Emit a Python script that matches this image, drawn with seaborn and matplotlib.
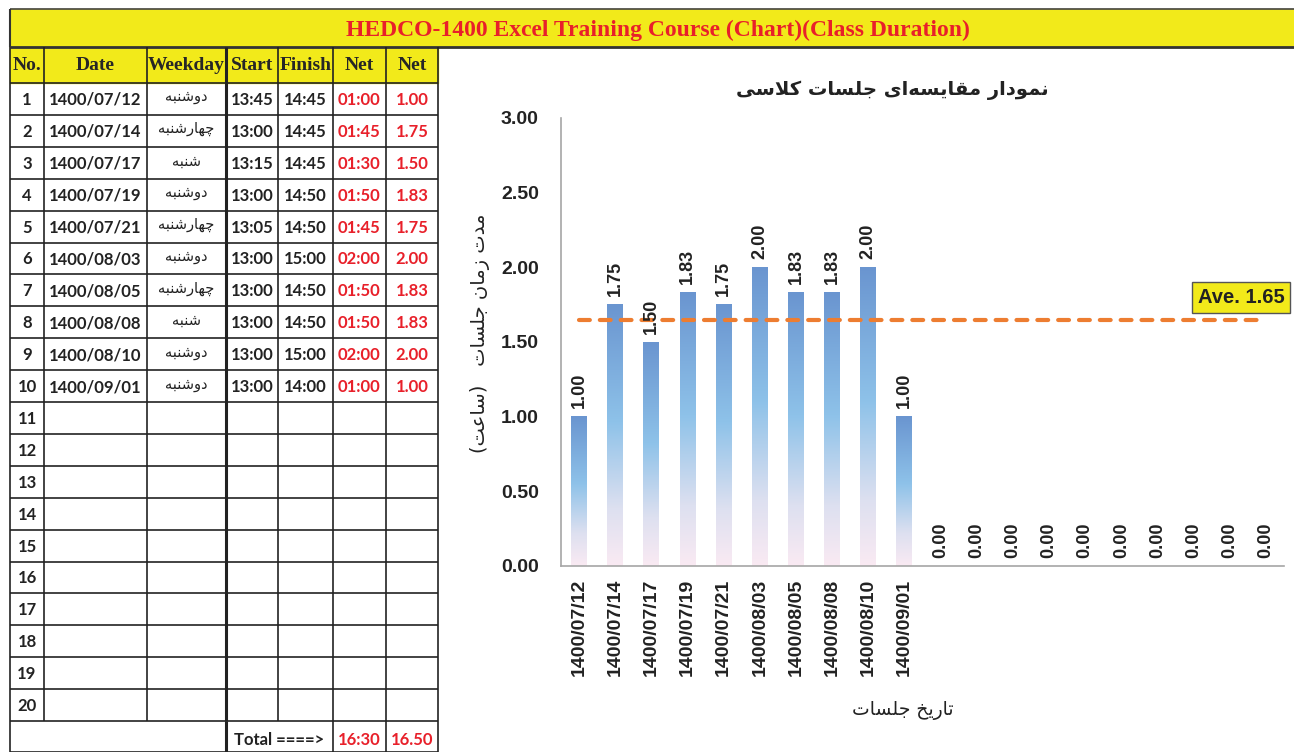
import numpy as np
import pandas as pd
import matplotlib
matplotlib.use("Agg")
import matplotlib.pyplot as plt
from matplotlib.colors import LinearSegmentedColormap
import seaborn as sns

# ---- data ----
row_numbers = list(range(1, 21))
dates = ['1400/07/12', '1400/07/14', '1400/07/17', '1400/07/19', '1400/07/21',
         '1400/08/03', '1400/08/05', '1400/08/08', '1400/08/10', '1400/09/01']
weekdays = ['دوشنبه', 'چهارشنبه', 'شنبه', 'دوشنبه', 'چهارشنبه',
            'دوشنبه', 'چهارشنبه', 'شنبه', 'دوشنبه', 'دوشنبه']
starts = ['13:45', '13:00', '13:15', '13:00', '13:05', '13:00', '13:00', '13:00', '13:00', '13:00']
finishes = ['14:45', '14:45', '14:45', '14:50', '14:50', '15:00', '14:50', '14:50', '15:00', '14:00']
net_hm = ['01:00', '01:45', '01:30', '01:50', '01:45', '02:00', '01:50', '01:50', '02:00', '01:00']
net_hours = [1.00, 1.75, 1.50, 1.83, 1.75, 2.00, 1.83, 1.83, 2.00, 1.00]
empty_slots = 10
total_hm = '16:30'
total_hours = '16.50'
average = 1.65

headers = ['No.', 'Date', 'Weekday', 'Start', 'Finish', 'Net', 'Net']
banner_title = 'HEDCO-1400 Excel Training Course (Chart)(Class Duration)'
chart_title = 'نمودار مقایسه\u200cای جلسات کلاسی'
y_title = 'مدت زمان جلسات   (ساعت)'
x_title = 'تاریخ جلسات'

RED = '#e8202a'
YELLOW = '#f2ea1a'


# matplotlib has no arabic shaping, so pick the presentation forms by hand
FORMS = {
    'ا': (0xFE8D, 0xFE8E, None, None), 'د': (0xFEA9, 0xFEAA, None, None),
    'ر': (0xFEAD, 0xFEAE, None, None), 'ز': (0xFEAF, 0xFEB0, None, None),
    'و': (0xFEED, 0xFEEE, None, None),
    'ب': (0xFE8F, 0xFE90, 0xFE91, 0xFE92), 'ت': (0xFE95, 0xFE96, 0xFE97, 0xFE98),
    'ج': (0xFE9D, 0xFE9E, 0xFE9F, 0xFEA0), 'خ': (0xFEA5, 0xFEA6, 0xFEA7, 0xFEA8),
    'س': (0xFEB1, 0xFEB2, 0xFEB3, 0xFEB4), 'ش': (0xFEB5, 0xFEB6, 0xFEB7, 0xFEB8),
    'ع': (0xFEC9, 0xFECA, 0xFECB, 0xFECC), 'ق': (0xFED5, 0xFED6, 0xFED7, 0xFED8),
    'ل': (0xFEDD, 0xFEDE, 0xFEDF, 0xFEE0), 'م': (0xFEE1, 0xFEE2, 0xFEE3, 0xFEE4),
    'ن': (0xFEE5, 0xFEE6, 0xFEE7, 0xFEE8), 'ه': (0xFEE9, 0xFEEA, 0xFEEB, 0xFEEC),
    'ی': (0xFBFC, 0xFBFD, 0xFBFE, 0xFBFF), 'ک': (0xFB8E, 0xFB8F, 0xFB90, 0xFB91),
    'چ': (0xFB7A, 0xFB7B, 0xFB7C, 0xFB7D),
}


def fa(text):
    out = []
    i = 0
    while i < len(text):
        c = text[i]
        if c not in FORMS:
            if c != '\u200c':
                out.append(c)
            i += 1
            continue
        prev = text[i - 1] if i > 0 else None
        join_prev = prev in FORMS and FORMS[prev][2] is not None
        if c == 'ل' and i + 1 < len(text) and text[i + 1] == 'ا':
            out.append(chr(0xFEFC if join_prev else 0xFEFB))
            i += 2
            continue
        nxt = text[i + 1] if i + 1 < len(text) else None
        iso, fin, ini, med = FORMS[c]
        join_next = ini is not None and nxt in FORMS
        if join_prev and join_next:
            g = med
        elif join_prev:
            g = fin
        elif join_next:
            g = ini
        else:
            g = iso
        out.append(chr(g))
        i += 1
    s = ''.join(reversed(out))
    return s.translate(str.maketrans('()', ')('))


sns.set_theme(style='white')
plt.rcParams['font.family'] = ['Liberation Sans', 'DejaVu Sans']
FA_FONT = ['DejaVu Sans']

fig = plt.figure(figsize=(12.94, 7.52), dpi=100)

# ---- spreadsheet part, drawn in pixel coordinates ----
sheet = fig.add_axes([0, 0, 1, 1])
sheet.set_xlim(0, 1294)
sheet.set_ylim(752, 0)
sheet.axis('off')

col_edges = [10, 44, 147, 226, 278, 333, 386, 438]
row_h = 31.9
header_top, header_bot = 47, 83
table_bot = header_bot + 20 * row_h

sheet.fill_between([10, 1294], 9, 47, color=YELLOW, zorder=0)
sheet.hlines(9, 10, 1294, color='#444', lw=1.2)
sheet.hlines(47, 10, 1294, color='#333', lw=2)
sheet.vlines(10, 9, 47, color='#333', lw=1.5)
sheet.text(658, 30, banner_title, ha='center', va='center', color=RED,
           fontsize=17, fontweight='bold', family='Liberation Serif')

sheet.fill_between([10, 438], header_top, header_bot, color=YELLOW, zorder=0)

# grid lines
for k in range(21):
    y = header_bot + k * row_h
    sheet.hlines(y, 10, 438, color='#222', lw=1.2)
sheet.hlines(752, 10, 438, color='#222', lw=1.2)
for x in col_edges:
    lw = 2.2 if x == 226 else 1.2
    sheet.vlines(x, header_top, table_bot, color='#222', lw=lw)
for x in [10, 226, 333, 386, 438]:
    sheet.vlines(x, table_bot, 752, color='#222', lw=2.2 if x == 226 else 1.2)

centers = [(a + b) / 2 for a, b in zip(col_edges[:-1], col_edges[1:])]
for cx, h in zip(centers, headers):
    sheet.text(cx, (header_top + header_bot) / 2 + 1, h, ha='center', va='center',
               fontsize=14, fontweight='bold', family='Liberation Serif')

cell_font = dict(fontsize=12, fontweight='bold', family='Lato', va='center', ha='center')
for k, n in enumerate(row_numbers):
    cy = header_bot + (k + 0.5) * row_h + 1
    sheet.text(centers[0], cy, str(n), color='#222', **cell_font)
    if k < len(dates):
        sheet.text(centers[1], cy, dates[k], color='#222', **cell_font)
        sheet.text(centers[2], cy - 3, fa(weekdays[k]), ha='center', va='center',
                   fontsize=10.5, family=FA_FONT, color='#222')
        sheet.text(centers[3], cy, starts[k], color='#222', **cell_font)
        sheet.text(centers[4], cy, finishes[k], color='#222', **cell_font)
        sheet.text(centers[5], cy, net_hm[k], color=RED, **cell_font)
        sheet.text(centers[6], cy, '%.2f' % net_hours[k], color=RED, **cell_font)

ty = table_bot + 19
sheet.text((226 + 333) / 2, ty, 'Total ====>', color='#222', **cell_font)
sheet.text(centers[5], ty, total_hm, color=RED, **cell_font)
sheet.text(centers[6], ty, total_hours, color=RED, **cell_font)

# ---- bar chart ----
values = net_hours + [0.0] * empty_slots
labels = dates + [''] * empty_slots
df = pd.DataFrame({'slot': [str(i) for i in range(len(values))], 'hours': values})

ax = fig.add_axes([561 / 1294, (752 - 566) / 752, 723 / 1294, 448 / 752])
sns.barplot(data=df, x='slot', y='hours', ax=ax, width=0.44, color='#6a95d0',
            saturation=1, errorbar=None)

# vertical gradient fill on each bar
grad = LinearSegmentedColormap.from_list(
    'bars', [(0, '#faeaf3'), (0.22, '#dde0f0'), (0.55, '#8ec2e9'), (1, '#6a95d0')])
ramp = np.linspace(0, 1, 256).reshape(-1, 1)
for p in ax.patches:
    h = p.get_height()
    if h > 0:
        x0 = p.get_x()
        ax.imshow(ramp, cmap=grad, origin='lower', aspect='auto',
                  extent=[x0, x0 + p.get_width(), 0, h], zorder=2)
        p.set_facecolor('none')
ax.set_xlim(-0.5, len(values) - 0.5)
ax.set_ylim(0, 3)

ax.bar_label(ax.containers[0], fmt='%.2f', rotation=90, padding=6,
             fontsize=13, fontweight='bold', color='#222', zorder=5)

# average line
sns.lineplot(x=list(range(len(values))), y=[average] * len(values), ax=ax,
             color='#ed7d31', lw=3, zorder=4)
ax.lines[-1].set_dashes([2.6, 2.4])
ax.lines[-1].set_dash_capstyle('round')
ax.annotate('Ave. %.2f' % average, xy=(len(values) - 1, average), xytext=(-25, 22),
            textcoords='offset pixels', ha='center', va='center', fontsize=14.5,
            fontweight='bold', color='#222',
            bbox=dict(boxstyle='square,pad=0.28', fc=YELLOW, ec='#555', lw=1))

ax.set_xticks(range(len(values)))
ax.set_xticklabels(labels, rotation=90, fontsize=14, fontweight='bold', color='#222')
ax.set_yticks(np.arange(0, 3.01, 0.5))
ax.set_yticklabels(['%.2f' % v for v in np.arange(0, 3.01, 0.5)],
                   fontsize=14, fontweight='bold', color='#222')
ax.tick_params(axis='y', pad=16, length=0)
ax.tick_params(axis='x', pad=9, length=0)
ax.set_xlabel(fa(x_title), fontsize=13.5, family=FA_FONT, color='#222')
ax.set_ylabel(fa(y_title), fontsize=14, family=FA_FONT, color='#222')
ax.xaxis.set_label_coords((903 - 561) / 723, (566 - 701) / 448)
ax.yaxis.set_label_coords((490 - 561) / 723, (566 - 333) / 448)
sns.despine(ax=ax)
for side in ['left', 'bottom']:
    ax.spines[side].set_color('#a6a6a6')
    ax.spines[side].set_linewidth(1.2)
ax.patch.set_alpha(0)

fig.text(892 / 1294, 1 - 90 / 752, fa(chart_title), ha='center', va='center',
         fontsize=14, fontweight='bold', family=FA_FONT, color='#222')

fig.savefig('out.png', dpi=100)
